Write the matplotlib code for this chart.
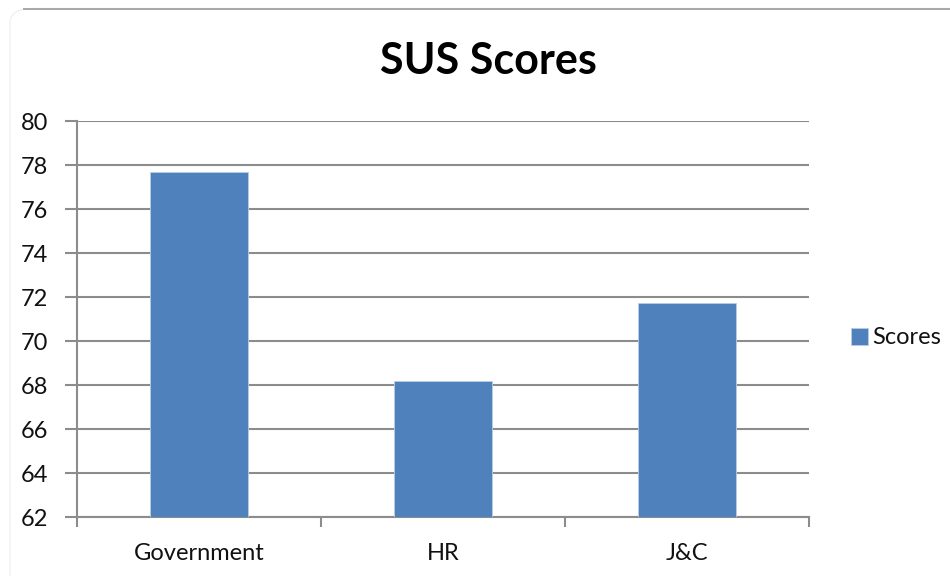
import matplotlib
matplotlib.use("Agg")
import matplotlib.pyplot as plt
from matplotlib.patches import FancyBboxPatch, Patch
from matplotlib.lines import Line2D

categories = ["Government", "HR", "J&C"]
scores = [77.7, 68.2, 71.75]
series_name = "Scores"
yticks = [62, 64, 66, 68, 70, 72, 74, 76, 78, 80]
title = "SUS Scores"

plt.rcParams['font.family'] = ['Lato', 'DejaVu Sans']

W, H = 950, 576
fig = plt.figure(figsize=(W / 100, H / 100), dpi=100)
fig.patch.set_facecolor('white')

# chart border (Excel-style rounded frame, partially cropped)
border = FancyBboxPatch((10 / W, -0.2), 1.2, 1.2 - 8.5 / H,
                        boxstyle="round,pad=0,rounding_size=0.025",
                        transform=fig.transFigure, facecolor='none',
                        edgecolor='#f0f0f0', linewidth=1.0, zorder=0)
fig.patches.append(border)
fig.add_artist(Line2D([24 / W, 1.0], [1 - 8.5 / H, 1 - 8.5 / H],
                      transform=fig.transFigure, color='#a8a8a8', lw=1.4))

ax = fig.add_axes([77 / W, 1 - 517 / H, (809 - 77) / W, (517 - 121) / H])
grid_c = '#8c8c8c'
x = list(range(len(categories)))
ax.bar(x, [s - yticks[0] for s in scores], bottom=yticks[0], width=0.4,
       color='#4F81BD', edgecolor='#b9cde5', linewidth=0.6, zorder=3,
       label=series_name)

ax.set_ylim(yticks[0], yticks[-1])
ax.set_xlim(-0.5, len(categories) - 0.5)
ax.set_yticks(yticks)
ax.set_yticklabels([str(v) for v in yticks])
ax.yaxis.grid(True, color=grid_c, linewidth=1.5, zorder=1)
ax.set_axisbelow(True)

# major ticks at category boundaries, labels at minor ticks
ax.set_xticks([i - 0.5 for i in range(len(categories) + 1)])
ax.set_xticklabels([])
ax.set_xticks(x, minor=True)
ax.set_xticklabels(categories, minor=True)
ax.tick_params(axis='x', which='minor', length=0, pad=19)
ax.tick_params(axis='x', which='major', length=7, width=1.5, color=grid_c)
ax.tick_params(axis='y', length=9, width=1.5, color=grid_c, pad=12)
ax.tick_params(axis='both', which='both', labelsize=17, labelcolor='#111111')

for side in ['top', 'right']:
    ax.spines[side].set_visible(False)
for side in ['left', 'bottom']:
    ax.spines[side].set_color(grid_c)
    ax.spines[side].set_linewidth(1.5)

fig.text(488 / W, 1 - 61 / H, title, ha='center', va='center',
         fontsize=31, fontweight='bold', color='#000000')

handle = Patch(facecolor='#4F81BD', edgecolor='#b9cde5', linewidth=0.6)
fig.legend([handle], [series_name], loc='center left',
           bbox_to_anchor=(851 / W, 1 - 338 / H), frameon=False,
           fontsize=17, handlelength=0.7, handleheight=0.7,
           handletextpad=0.2, borderpad=0, borderaxespad=0,
           labelcolor='#111111')

fig.savefig('out.png', dpi=100)
